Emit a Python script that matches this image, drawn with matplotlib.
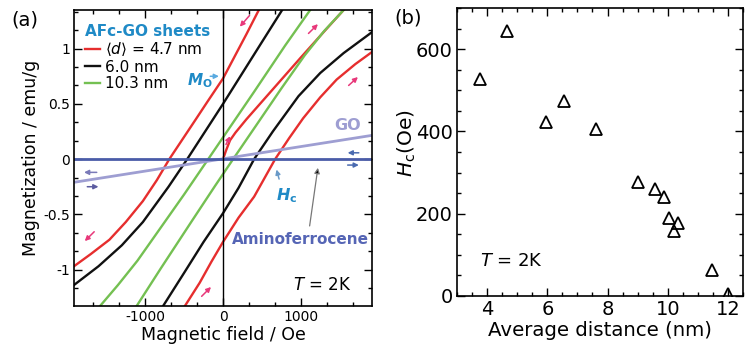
import matplotlib
matplotlib.use("Agg")
import matplotlib.pyplot as plt
from matplotlib.ticker import AutoMinorLocator, FuncFormatter

plt.rcParams["font.family"] = ["DejaVu Sans"]
plt.rcParams["mathtext.fontset"] = "dejavusans"
plt.rcParams["axes.unicode_minus"] = False

# (a) hysteresis loops, field in Oe, magnetization in emu/g
red_dn_H = [460, 300, 150, 0, -200, -350, -690, -850, -1030, -1250, -1460, -1700, -1915]
red_dn_M = [1.35, 1.13, 0.93, 0.73, 0.52, 0.36, 0.0, -0.19, -0.38, -0.57, -0.73, -0.86, -0.97]
red_up_H = [-490, -300, -150, 0, 200, 400, 670, 850, 1030, 1250, 1460, 1700, 1915]
red_up_M = [-1.33, -1.12, -0.93, -0.75, -0.53, -0.34, 0.0, 0.19, 0.37, 0.56, 0.72, 0.86, 0.97]
red_v_H = [0, 40, 90, 160, 300, 500, 750, 1000, 1280, 1550]
red_v_M = [0, 0.08, 0.17, 0.24, 0.36, 0.52, 0.72, 0.92, 1.14, 1.35]

blk_dn_H = [760, 500, 250, 0, -230, -460, -700, -1030, -1300, -1600, -1915]
blk_dn_M = [1.35, 1.06, 0.78, 0.50, 0.25, 0.0, -0.25, -0.57, -0.78, -0.97, -1.14]
blk_up_H = [-770, -500, -250, 0, 200, 400, 640, 970, 1250, 1550, 1915]
blk_up_M = [-1.33, -1.03, -0.75, -0.49, -0.26, 0.0, 0.25, 0.57, 0.78, 0.96, 1.15]

grn_dn_H = [1120, 800, 400, 100, -190, -500, -800, -1100, -1350, -1580]
grn_dn_M = [1.35, 1.03, 0.61, 0.30, 0.0, -0.32, -0.62, -0.92, -1.14, -1.33]
grn_up_H = [-1110, -800, -400, -100, 130, 450, 750, 1050, 1300, 1550]
grn_up_M = [-1.33, -0.99, -0.56, -0.24, 0.0, 0.33, 0.64, 0.94, 1.16, 1.35]

go_H = [-1915, 1915]
go_M = [-0.21, 0.215]
afc_H = [-1915, 1915]
afc_M = [0, 0]

# (b) coercive field vs average distance
dist = [3.77, 4.67, 5.95, 6.57, 7.61, 9.0, 9.56, 9.89, 10.03, 10.35, 10.22, 11.48, 12.0]
hc = [528, 645, 423, 474, 407, 276, 260, 241, 190, 177, 159, 63, 5]

RED = "#e62e2e"
GRN = "#74c052"
PINK = "#e8387a"
CYAN = "#1f8ac6"

fig = plt.figure(figsize=(7.46, 3.51), dpi=100)
ax = fig.add_axes([0.0992, 0.1282, 0.3995, 0.8433])
bx = fig.add_axes([0.6126, 0.1567, 0.3834, 0.8205])

lw = 1.7
ax.plot(red_dn_H, red_dn_M, color=RED, lw=lw, label=r"$\langle d\rangle$ = 4.7 nm")
ax.plot(red_up_H, red_up_M, color=RED, lw=lw)
ax.plot(red_v_H, red_v_M, color=RED, lw=lw)
ax.plot(blk_dn_H, blk_dn_M, color="#111111", lw=lw, label="6.0 nm")
ax.plot(blk_up_H, blk_up_M, color="#111111", lw=lw)
ax.plot(grn_dn_H, grn_dn_M, color=GRN, lw=lw, label="10.3 nm")
ax.plot(grn_up_H, grn_up_M, color=GRN, lw=lw)
ax.plot(go_H, go_M, color="#9e9ed2", lw=2.0)
ax.plot(afc_H, afc_M, color="#4a5ca8", lw=2.0)
ax.axvline(0, color="black", lw=1.0)

ax.set_xlim(-1915, 1915)
ax.set_ylim(-1.33, 1.35)
ax.set_xticks([-1000, 0, 1000])
ax.set_yticks([-1, -0.5, 0, 0.5, 1])
ax.yaxis.set_major_formatter(FuncFormatter(lambda v, p: "%g" % v))
ax.set_xlabel("Magnetic field / Oe", fontsize=12.5, labelpad=1)
ax.set_ylabel("Magnetization / emu/g", fontsize=12.5, labelpad=2)

leg = ax.legend(loc="upper left", bbox_to_anchor=(0.0, 0.99), frameon=False, fontsize=11,
                handlelength=1.0, handletextpad=0.3, labelspacing=0.1, borderaxespad=0.3,
                title="AFc-GO sheets", title_fontproperties={"weight": "bold", "size": 11},
                alignment="left")
leg.get_title().set_color(CYAN)

# pink arrows along loops
pink = [((365, 1.32), (193, 1.18)), ((1073, 1.12), (1245, 1.24)), ((22, 0.11), (108, 0.23)),
        ((1588, 0.65), (1760, 0.76)), ((-1630, -0.64), (-1802, -0.76)), ((-300, -1.26), (-129, -1.14))]
for t, h in pink:
    ax.annotate("", xy=h, xytext=t, arrowprops=dict(arrowstyle="-|>", color=PINK, lw=1.1, mutation_scale=7))

small = [((-1587, -0.12), (-1822, -0.12), "#7a7ab8"), ((-1780, -0.25), (-1565, -0.25), "#5c5ca0"),
         ((1781, 0.057), (1566, 0.057), "#4a6ab0"), ((1566, -0.054), (1781, -0.054), "#4a6ab0")]
for t, h, c in small:
    ax.annotate("", xy=h, xytext=t, arrowprops=dict(arrowstyle="-|>", color=c, lw=1.1, mutation_scale=7))

ax.annotate("", xy=(-17, 0.75), xytext=(-200, 0.75),
            arrowprops=dict(arrowstyle="-|>", color="#5aaae0", lw=1.1, mutation_scale=7))
ax.text(-300, 0.71, r"$\mathbfit{M}_{\mathbf{O}}$", color=CYAN, fontsize=11, ha="center", va="center")
ax.annotate("", xy=(678, -0.07), xytext=(730, -0.205),
            arrowprops=dict(arrowstyle="-|>", color="#6a9ac8", lw=1.1, mutation_scale=7))
ax.text(820, -0.33, r"$\mathbfit{H}_{\mathbf{c}}$", color=CYAN, fontsize=11.5, ha="center", va="center")
ax.annotate("", xy=(1224, -0.054), xytext=(1108, -0.63),
            arrowprops=dict(arrowstyle="-|>", ec="#777777", fc="black", lw=0.9, mutation_scale=8))
ax.text(990, -0.73, "Aminoferrocene", color="#5565b5", fontsize=11, fontweight="bold", ha="center", va="center")
ax.text(1605, 0.30, "GO", color="#9e9ed2", fontsize=11.5, fontweight="bold", ha="center", va="center")
ax.text(1270, -1.14, r"$T$ = 2K", fontsize=12, ha="center", va="center")

bx.plot(dist, hc, linestyle="none", marker="^", ms=9, mfc="none", mec="black", mew=1.3)
bx.set_xlim(3, 12.5)
bx.set_ylim(0, 700)
bx.set_xticks([4, 6, 8, 10, 12])
bx.set_yticks([0, 200, 400, 600])
bx.set_xlabel("Average distance (nm)", fontsize=14.2, labelpad=1)
bx.set_ylabel(r"$H_\mathrm{c}$(Oe)", fontsize=14.5, labelpad=2)
bx.yaxis.set_label_coords(-0.135, 0.53)
bx.text(4.8, 85, r"$T$ = 2K", fontsize=13, ha="center", va="center")

for a, fs in ((ax, 10), (bx, 14)):
    a.xaxis.set_minor_locator(AutoMinorLocator(3 if a is ax else 4))
    a.yaxis.set_minor_locator(AutoMinorLocator(3 if a is ax else 4))
    a.tick_params(which="both", direction="in", top=True, right=True, labelsize=fs, width=1.0, pad=3)
    a.tick_params(which="major", length=5.5)
    a.tick_params(which="minor", length=3)
    for s in a.spines.values():
        s.set_linewidth(1.2)

fig.text(25 / 746, 1 - 20 / 351, "(a)", fontsize=14, ha="center", va="center")
fig.text(408 / 746, 1 - 18 / 351, "(b)", fontsize=14, ha="center", va="center")

fig.savefig("out.png", dpi=100)
